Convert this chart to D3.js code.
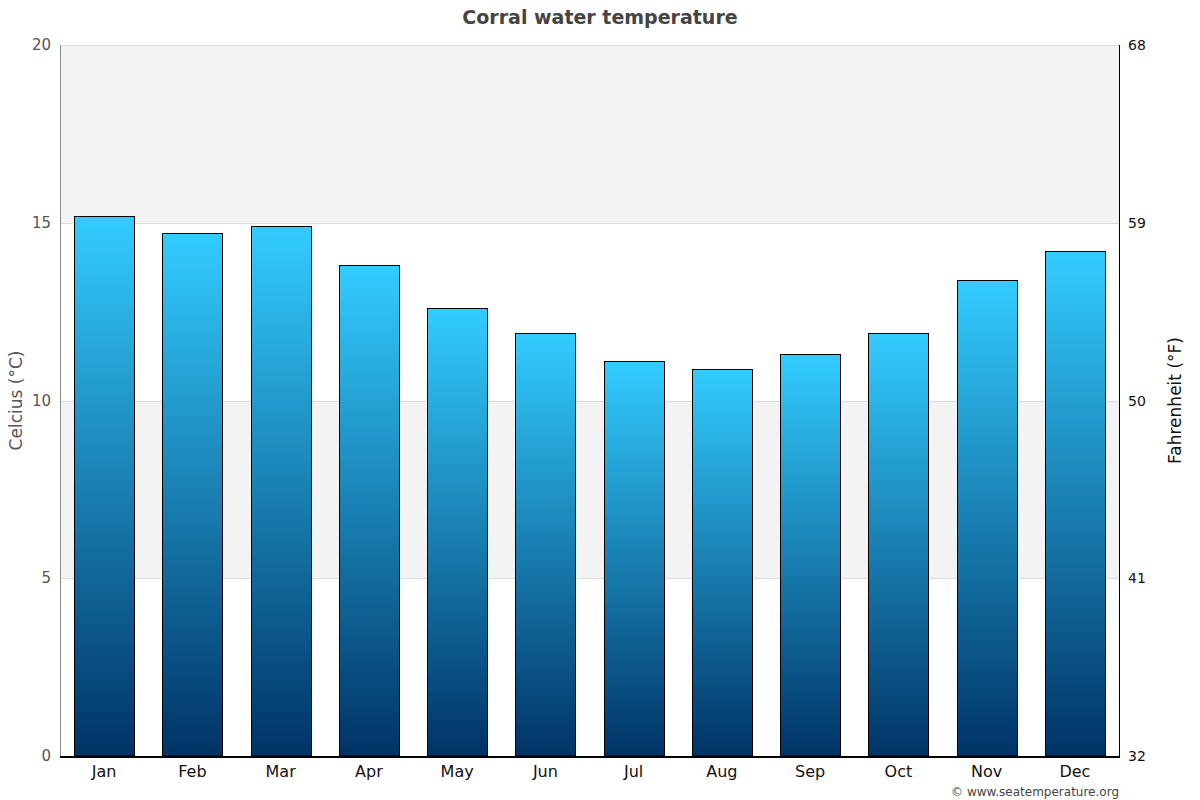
<!DOCTYPE html>
<html><head><meta charset="utf-8">
<title>Corral water temperature</title>
<script src="https://cdn.jsdelivr.net/npm/d3@7"></script>
<style>
body { margin: 0; background: #fff; }
text { font-family: "DejaVu Sans", sans-serif; }
</style>
</head>
<body>
<script>
// data
var months = ["Jan","Feb","Mar","Apr","May","Jun","Jul","Aug","Sep","Oct","Nov","Dec"];
var tempC = [15.2, 14.7, 14.9, 13.8, 12.6, 11.9, 11.1, 10.9, 11.3, 11.9, 13.4, 14.2];
var ticksC = [0, 5, 10, 15, 20];
var ticksF = [32, 41, 50, 59, 68];

var width = 1200, height = 800;
// plot box (note: "top" is taken by window.top, so use plot* names)
var plotL = 60, plotR = 1119, plotT = 45, plotB = 756;

var svg = d3.select("body").append("svg").attr("width", width).attr("height", height);

var x = d3.scaleBand().domain(months).range([plotL, plotR]).paddingInner(0.32).paddingOuter(0.16);
var y = d3.scaleLinear().domain([0, 20]).range([plotB, plotT]);
var yF = d3.scaleLinear().domain([32, 68]).range([plotB, plotT]);

var grad = svg.append("defs").append("linearGradient")
	.attr("id", "barGrad").attr("x1", 0).attr("y1", 0).attr("x2", 0).attr("y2", 1);
grad.append("stop").attr("offset", "0%").attr("stop-color", "#33ccff");
grad.append("stop").attr("offset", "100%").attr("stop-color", "#003366");

// alternating bands
var bands = [[15, 20], [5, 10]];
svg.append("g").selectAll("rect").data(bands).enter().append("rect")
	.attr("x", plotL).attr("width", plotR - plotL)
	.attr("y", function(d) { return y(d[1]); })
	.attr("height", function(d) { return y(d[0]) - y(d[1]); })
	.attr("fill", "#f3f3f3");

// grid lines
svg.append("g").selectAll("line").data(ticksC.slice(1)).enter().append("line")
	.attr("x1", plotL).attr("x2", plotR)
	.attr("y1", function(d) { return Math.round(y(d)) + 0.5; })
	.attr("y2", function(d) { return Math.round(y(d)) + 0.5; })
	.attr("stroke", "#dddddd");

// bars
svg.append("g").selectAll("rect").data(tempC).enter().append("rect")
	.attr("x", function(d, i) { return Math.round(x(months[i])) + 0.5; })
	.attr("y", function(d) { return Math.round(y(d)) + 0.5; })
	.attr("width", Math.round(x.bandwidth()))
	.attr("height", function(d) { return plotB - Math.round(y(d)) - 0.5; })
	.attr("fill", "url(#barGrad)")
	.attr("stroke", "#000")
	.attr("stroke-width", 1);

// left axis
svg.append("line").attr("x1", plotL + 0.5).attr("x2", plotL + 0.5).attr("y1", plotT).attr("y2", plotB)
	.attr("stroke", "#888");
svg.append("g").selectAll("text").data(ticksC).enter().append("text")
	.attr("x", plotL - 9).attr("y", function(d) { return y(d) + 5; })
	.attr("text-anchor", "end").attr("font-size", 15).attr("fill", "#555")
	.text(function(d) { return d; });

// right axis
svg.append("line").attr("x1", plotR + 0.5).attr("x2", plotR + 0.5).attr("y1", plotT).attr("y2", plotB)
	.attr("stroke", "#000");
svg.append("g").selectAll("text").data(ticksF).enter().append("text")
	.attr("x", plotR + 9).attr("y", function(d) { return yF(d) + 5; })
	.attr("text-anchor", "start").attr("font-size", 14).attr("fill", "#111")
	.text(function(d) { return d; });

// bottom axis
svg.append("line").attr("x1", plotL).attr("x2", plotR + 1).attr("y1", plotB + 1).attr("y2", plotB + 1)
	.attr("stroke", "#000").attr("stroke-width", 2);
svg.append("g").selectAll("text").data(months).enter().append("text")
	.attr("x", function(d) { return x(d) + x.bandwidth() / 2; })
	.attr("y", plotB + 21)
	.attr("text-anchor", "middle").attr("font-size", 16).attr("fill", "#111")
	.text(function(d) { return d; });

// titles
svg.append("text").attr("x", 600).attr("y", 24).attr("text-anchor", "middle")
	.attr("font-size", 19).attr("font-weight", "bold").attr("fill", "#444")
	.text("Corral water temperature");

svg.append("text").attr("transform", "translate(22," + ((plotT + plotB) / 2) + ") rotate(-90)")
	.attr("text-anchor", "middle").attr("font-size", 17).attr("fill", "#555")
	.text("Celcius (°C)");

svg.append("text").attr("transform", "translate(1181," + ((plotT + plotB) / 2) + ") rotate(-90)")
	.attr("text-anchor", "middle").attr("font-size", 17).attr("fill", "#111")
	.text("Fahrenheit (°F)");

svg.append("text").attr("x", 1119).attr("y", 796).attr("text-anchor", "end")
	.attr("font-size", 12).attr("fill", "#444")
	.text("© www.seatemperature.org");
</script>
</body></html>
